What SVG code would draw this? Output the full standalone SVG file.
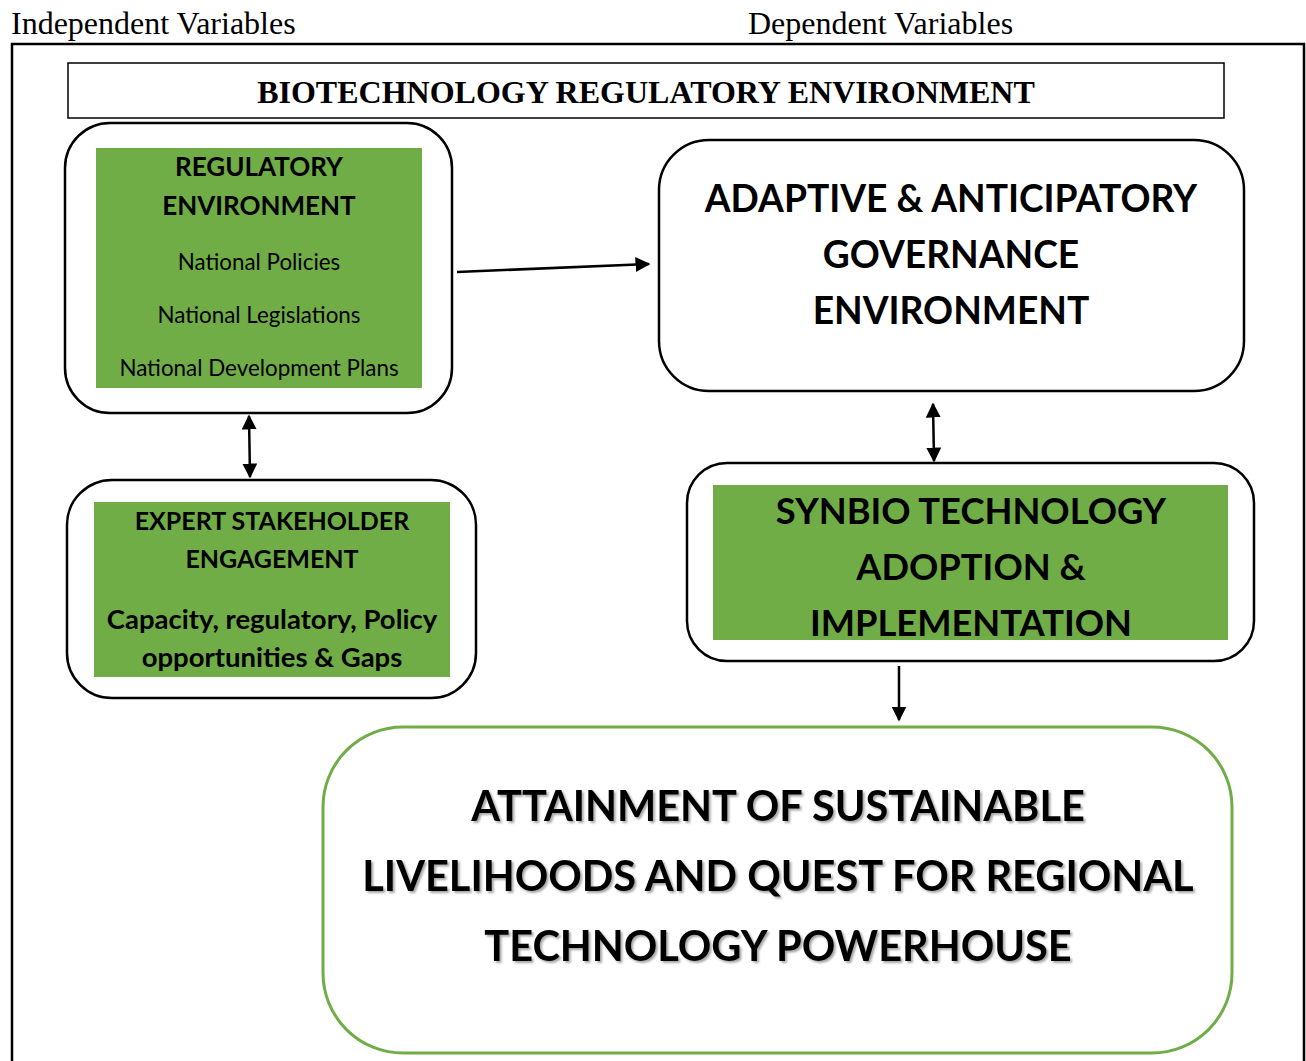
<svg xmlns="http://www.w3.org/2000/svg" width="1306" height="1061" viewBox="0 0 1306 1061">
  <defs>
    <style>
      .serif { font-family: "Liberation Serif", "Times New Roman", serif; fill: #000; }
      .sans { font-family: Lato, "Open Sans", "Noto Sans", sans-serif; fill: #000; text-anchor: middle; }
      .b { font-weight: bold; }
      .node { fill: #fff; stroke: #000; stroke-width: 2.5; }
      .green { fill: #70AD47; }
      .conn { stroke: #000; stroke-width: 2.5; fill: none; }
    </style>
    <marker id="ah" viewBox="0 0 10 10" refX="9" refY="5" markerWidth="6" markerHeight="6" orient="auto-start-reverse" markerUnits="strokeWidth">
      <path d="M0,0 L10,5 L0,10 z" fill="#000"/>
    </marker>
    <filter id="shadow" x="-5%" y="-20%" width="110%" height="140%">
      <feDropShadow dx="2" dy="2" stdDeviation="1.2" flood-color="#000" flood-opacity="0.35"/>
    </filter>
  </defs>

  <rect width="1306" height="1061" fill="#fff"/>

  <!-- column headings -->
  <text class="serif" x="11" y="34" font-size="32">Independent Variables</text>
  <text class="serif" x="748" y="34" font-size="32">Dependent Variables</text>

  <!-- outer frame -->
  <path d="M12,1061 V44 H1304 V1061" fill="none" stroke="#000" stroke-width="2.5"/>

  <!-- title bar -->
  <g id="title">
    <rect x="68" y="63" width="1156" height="55" fill="#fff" stroke="#000" stroke-width="1.5"/>
    <text class="serif b" x="646" y="103" font-size="32" text-anchor="middle">BIOTECHNOLOGY REGULATORY ENVIRONMENT</text>
  </g>

  <g id="regulatory-environment">
    <rect class="node" x="65" y="123" width="387" height="290" rx="45"/>
    <rect class="green" x="96" y="148" width="326" height="240"/>
    <text class="sans b" x="259" y="176" font-size="26">REGULATORY</text>
    <text class="sans b" x="259" y="215" font-size="26">ENVIRONMENT</text>
    <text class="sans" x="259" y="270" font-size="22.4">National Policies</text>
    <text class="sans" x="259" y="323" font-size="22.4">National Legislations</text>
    <text class="sans" x="259" y="376" font-size="22.4">National Development Plans</text>
  </g>

  <g id="adaptive-governance">
    <rect class="node" x="659" y="140" width="585" height="251" rx="50"/>
    <text class="sans b" x="951" y="212" font-size="37.2">ADAPTIVE &amp; ANTICIPATORY</text>
    <text class="sans b" x="951" y="268" font-size="37.2">GOVERNANCE</text>
    <text class="sans b" x="951" y="324" font-size="37.2">ENVIRONMENT</text>
  </g>

  <g id="expert-stakeholder">
    <rect class="node" x="67" y="480" width="409" height="218" rx="45"/>
    <rect class="green" x="94" y="502" width="356" height="175"/>
    <text class="sans b" x="272" y="530" font-size="25">EXPERT STAKEHOLDER</text>
    <text class="sans b" x="272" y="568" font-size="25">ENGAGEMENT</text>
    <text class="sans b" x="272" y="629" font-size="27.5">Capacity, regulatory, Policy</text>
    <text class="sans b" x="272" y="667" font-size="27.5">opportunities &amp; Gaps</text>
  </g>

  <g id="synbio-adoption">
    <rect class="node" x="687" y="463" width="567" height="198" rx="40"/>
    <rect class="green" x="713" y="485" width="515" height="155"/>
    <text class="sans b" x="971" y="524" font-size="36.3">SYNBIO TECHNOLOGY</text>
    <text class="sans b" x="971" y="580" font-size="36.3">ADOPTION &amp;</text>
    <text class="sans b" x="971" y="636" font-size="36.3">IMPLEMENTATION</text>
  </g>

  <g id="sustainable-livelihoods">
    <rect x="323" y="727" width="909" height="326" rx="80" fill="#fff" stroke="#70AD47" stroke-width="3"/>
    <g filter="url(#shadow)">
      <text class="sans b" x="778" y="821" font-size="41.5">ATTAINMENT OF SUSTAINABLE</text>
      <text class="sans b" x="778" y="891" font-size="41.5">LIVELIHOODS AND QUEST FOR REGIONAL</text>
      <text class="sans b" x="778" y="961" font-size="41.5">TECHNOLOGY POWERHOUSE</text>
    </g>
  </g>

  <g id="connectors">
    <line class="conn" x1="457" y1="272" x2="649" y2="264" marker-end="url(#ah)"/>
    <line class="conn" x1="249" y1="416" x2="250" y2="477" marker-start="url(#ah)" marker-end="url(#ah)"/>
    <line class="conn" x1="933" y1="404" x2="934" y2="461" marker-start="url(#ah)" marker-end="url(#ah)"/>
    <line class="conn" x1="899" y1="666" x2="899" y2="720" marker-end="url(#ah)"/>
  </g>
</svg>
